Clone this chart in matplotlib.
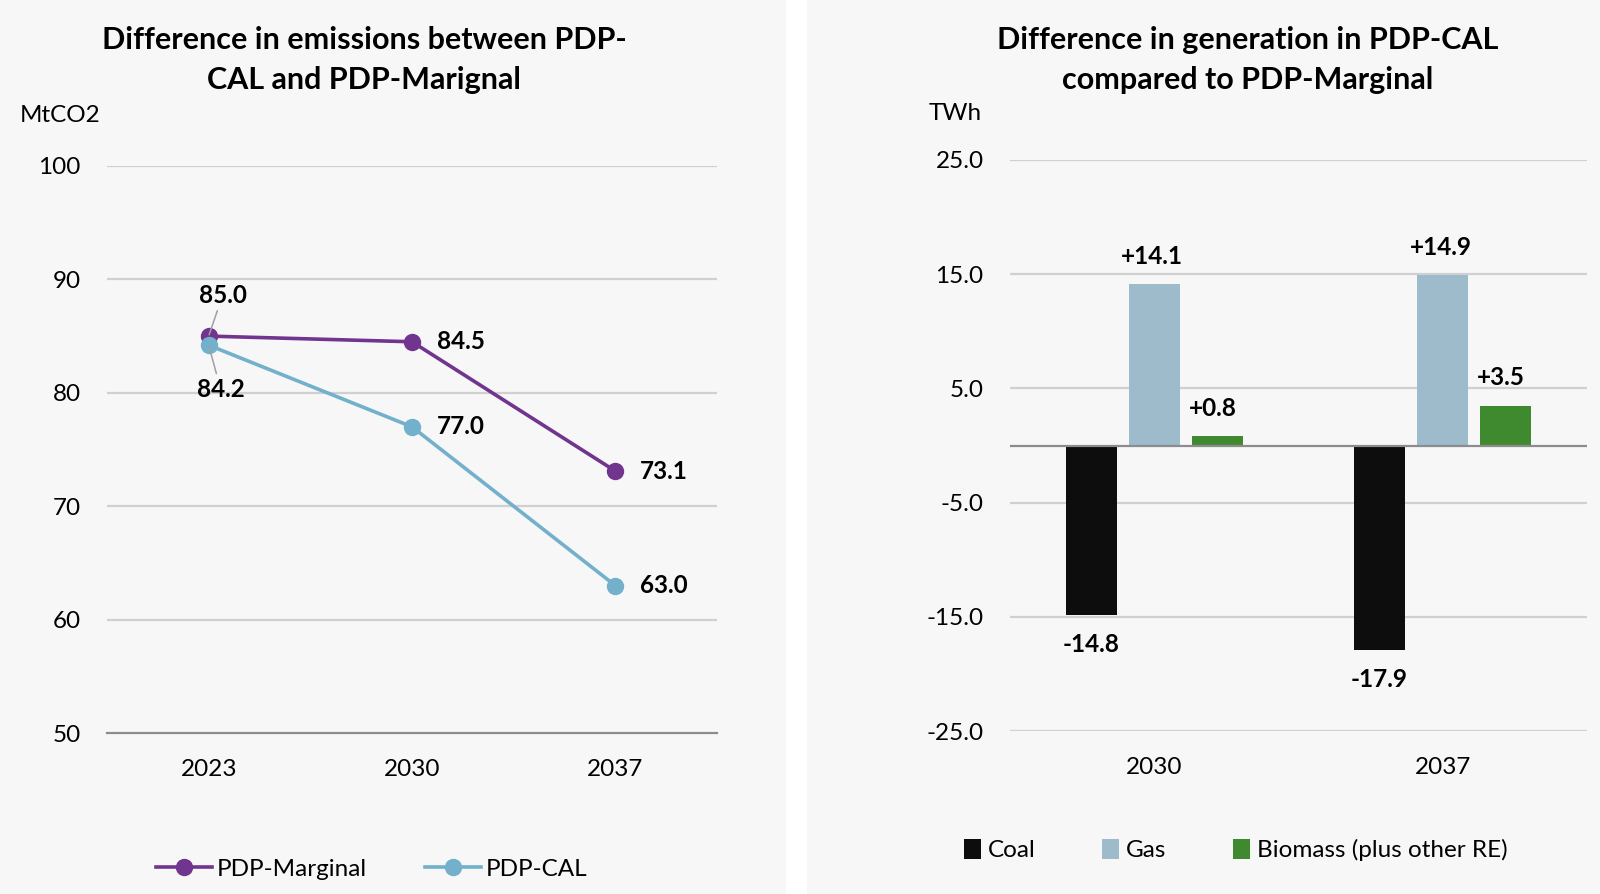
import matplotlib
matplotlib.use("Agg")
import matplotlib.pyplot as plt
from matplotlib.patches import Rectangle
import numpy as np

plt.rcParams['font.family'] = ['Lato', 'DejaVu Sans']
plt.rcParams['axes.unicode_minus'] = False

# ---------------- data ----------------
years_left = ["2023", "2030", "2037"]
pdp_marginal = [85.0, 84.5, 73.1]
pdp_cal = [84.2, 77.0, 63.0]
left_ticks = [50, 60, 70, 80, 90, 100]

years_right = ["2030", "2037"]
coal = [-14.8, -17.9]
gas = [14.1, 14.9]
biomass = [0.8, 3.5]
right_ticks = [-25.0, -15.0, -5.0, 5.0, 15.0, 25.0]

W, H = 1600, 894
fig = plt.figure(figsize=(16, 8.94), dpi=100, facecolor="white")

def fx(x):
    return x / W

def fy(y):
    return 1 - y / H

PANEL = "#f7f7f7"
GRID = "#d0d0d0"
AXLINE = "#8c8c8c"
PURPLE = "#72358f"
BLUE = "#72b0cc"
TXT = "#000000"
FS = 17.5

fig.patches.append(Rectangle((0, 0), fx(786), 1, transform=fig.transFigure,
                             facecolor=PANEL, edgecolor="none", zorder=-10))
fig.patches.append(Rectangle((fx(807), 0), 1 - fx(807), 1, transform=fig.transFigure,
                             facecolor=PANEL, edgecolor="none", zorder=-10))

# ---------------- left chart ----------------
axL = fig.add_axes([fx(107), fy(733), fx(717) - fx(107), (733 - 166) / H])
axL.set_facecolor("none")
axL.set_zorder(2)
xl = np.arange(len(years_left))
axL.set_xlim(-0.5, len(years_left) - 0.5)
axL.set_ylim(50, 100)
for t in left_ticks[1:]:
    axL.axhline(t, color=GRID, lw=1.6, zorder=1)
for s in ["top", "right", "left"]:
    axL.spines[s].set_visible(False)
axL.spines["bottom"].set_color(AXLINE)
axL.spines["bottom"].set_linewidth(1.6)
axL.set_yticks(left_ticks)
axL.set_yticklabels([str(t) for t in left_ticks])
axL.set_xticks(xl)
axL.set_xticklabels(years_left)
axL.tick_params(axis="y", length=0, pad=19, labelsize=FS, colors=TXT)
axL.tick_params(axis="x", length=0, pad=19, labelsize=FS, colors=TXT)

l1, = axL.plot(xl, pdp_marginal, color=PURPLE, lw=2.6, marker="o", ms=11.5,
               label="PDP-Marginal", zorder=3)
l2, = axL.plot(xl, pdp_cal, color=BLUE, lw=2.6, marker="o", ms=11.5,
               label="PDP-CAL", zorder=4)

lab_kw = dict(fontsize=FS, fontweight="bold", color=TXT, textcoords="offset pixels")
leader = dict(arrowstyle="-", color="#a0a0a0", lw=1.1, shrinkA=1, shrinkB=1)
axL.annotate(f"{pdp_marginal[0]:.1f}", (xl[0], pdp_marginal[0]), xytext=(14, 41),
             ha="center", va="center", arrowprops=leader, zorder=6, **lab_kw)
axL.annotate(f"{pdp_cal[0]:.1f}", (xl[0], pdp_cal[0]), xytext=(12, -44),
             ha="center", va="center", arrowprops=leader, zorder=6, **lab_kw)
for i in range(1, len(xl)):
    axL.annotate(f"{pdp_marginal[i]:.1f}", (xl[i], pdp_marginal[i]), xytext=(25, 0),
                 ha="left", va="center", **lab_kw)
    axL.annotate(f"{pdp_cal[i]:.1f}", (xl[i], pdp_cal[i]), xytext=(25, 0),
                 ha="left", va="center", **lab_kw)

fig.text(fx(364), fy(60), "Difference in emissions between PDP-\nCAL and PDP-Marignal",
         ha="center", va="center", fontsize=22, fontweight="bold", color=TXT,
         linespacing=1.5)
fig.text(fx(20), fy(115), "MtCO2", ha="left", va="center", fontsize=FS, color=TXT)

legL = fig.legend(handles=[l1, l2], loc="center left",
                  bbox_to_anchor=(fx(156), fy(869)), ncol=2, frameon=False,
                  fontsize=FS, handlelength=2.3, handletextpad=0.2,
                  columnspacing=2.4, borderpad=0, borderaxespad=0)

# ---------------- right chart ----------------
axR = fig.add_axes([fx(1010), fy(731), fx(1587) - fx(1010), (731 - 160) / H])
axR.set_facecolor("none")
axR.set_zorder(2)
xr = np.arange(len(years_right))
axR.set_xlim(-0.5, len(years_right) - 0.5)
axR.set_ylim(-25, 25)
for t in right_ticks:
    axR.axhline(t, color=GRID, lw=1.6, zorder=1)
axR.axhline(0, color=AXLINE, lw=1.6, zorder=4)
for s in ["top", "right", "left", "bottom"]:
    axR.spines[s].set_visible(False)
axR.set_yticks(right_ticks)
axR.set_yticklabels([f"{t:.1f}" for t in right_ticks])
axR.set_xticks(xr)
axR.set_xticklabels(years_right)
axR.tick_params(axis="y", length=0, pad=19, labelsize=FS, colors=TXT)
axR.tick_params(axis="x", length=0, pad=19, labelsize=FS, colors=TXT)

bw, off = 0.177, 0.219
b1 = axR.bar(xr - off, coal, bw, color="#0d0d0d", label="Coal", zorder=3)
b2 = axR.bar(xr, gas, bw, color="#9dbbcb", label="Gas", zorder=3)
b3 = axR.bar(xr + off, biomass, bw, color="#3f8a2e", label="Biomass (plus other RE)", zorder=3)

for xi, v in zip(xr - off, coal):
    axR.annotate(f"{v:.1f}", (xi, v), xytext=(0, -30), ha="center", va="center", **lab_kw)
for xi, v in zip(xr, gas):
    axR.annotate(f"+{v:.1f}", (xi, v), xytext=(-2, 28), ha="center", va="center", **lab_kw)
for xi, v in zip(xr + off, biomass):
    axR.annotate(f"+{v:.1f}", (xi, v), xytext=(-5, 28), ha="center", va="center", **lab_kw)

fig.text(fx(1248), fy(60), "Difference in generation in PDP-CAL\ncompared to PDP-Marginal",
         ha="center", va="center", fontsize=22, fontweight="bold", color=TXT,
         linespacing=1.5)
fig.text(fx(929), fy(113), "TWh", ha="left", va="center", fontsize=FS, color=TXT)

legR = fig.legend(handles=[b1, b2, b3], loc="center left",
                  bbox_to_anchor=(fx(964), fy(850)), ncol=3, frameon=False,
                  fontsize=FS, handlelength=0.68, handleheight=0.9, handletextpad=0.3,
                  columnspacing=2.75, borderpad=0, borderaxespad=0)

fig.savefig("out.png", dpi=100, facecolor="white")
